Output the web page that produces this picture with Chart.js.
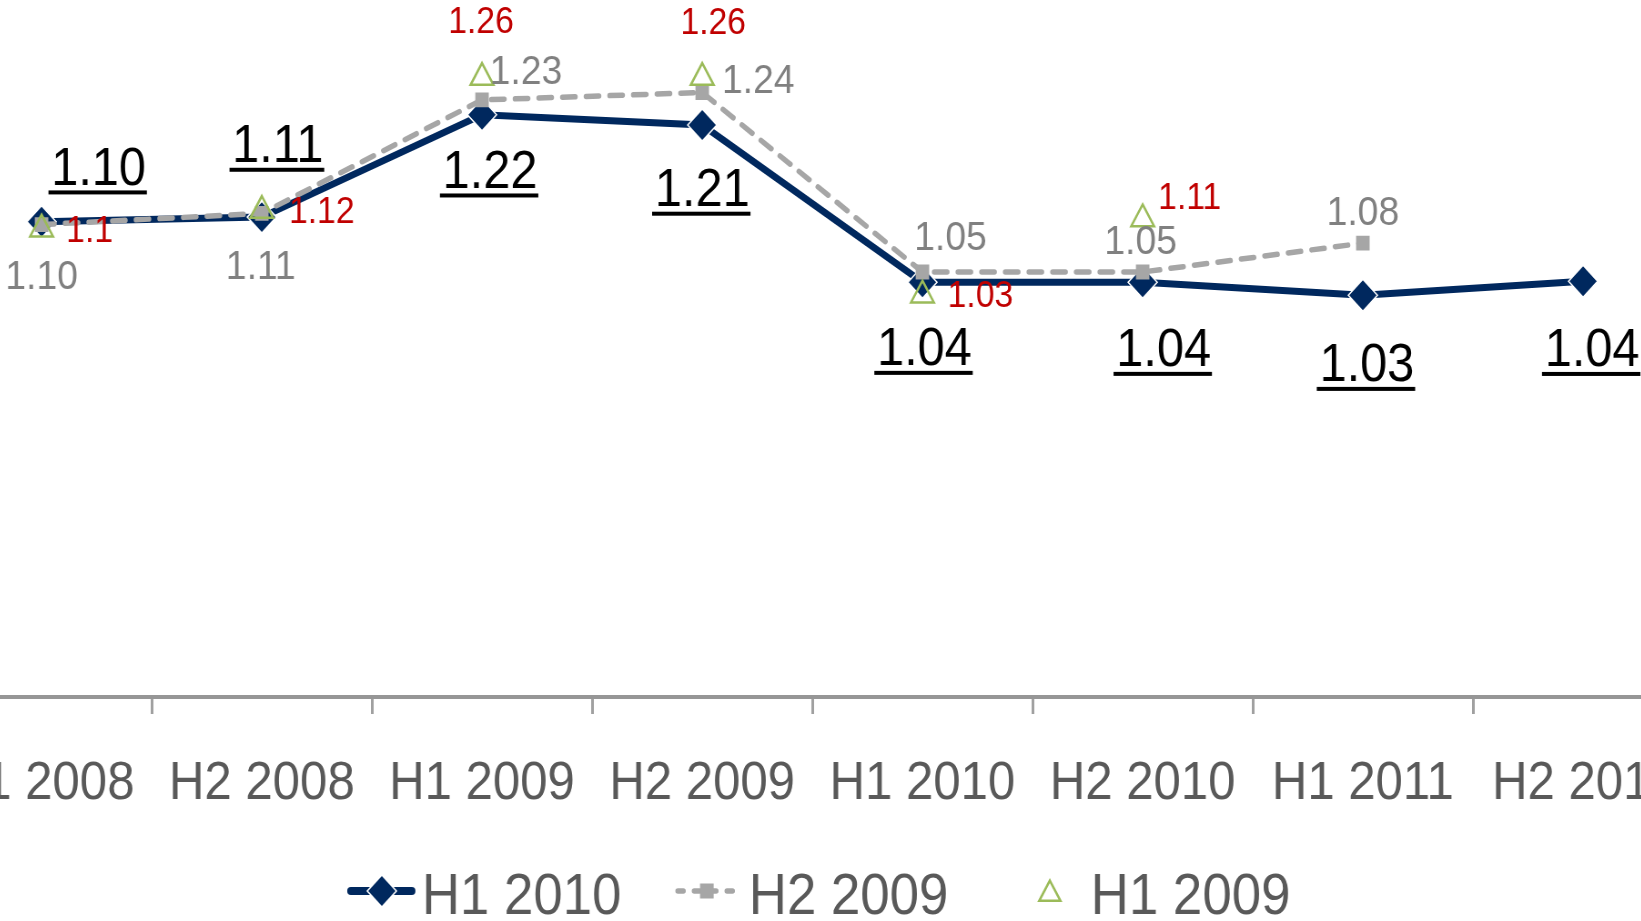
<!DOCTYPE html>
<html>
<head>
<meta charset="utf-8">
<script src="https://cdn.jsdelivr.net/npm/chart.js@4.4.1/dist/chart.umd.min.js"></script>
<style>
  html, body { margin: 0; padding: 0; background: #fff; overflow: hidden; width: 1641px; height: 921px; }
  #wrap { position: absolute; left: -66px; top: -47px; transform: scaleX(0.91); transform-origin: 0 0; }
</style>
</head>
<body>
<div id="wrap"><canvas id="chart" width="1931" height="968"></canvas></div>
<script>
"use strict";

// data
const periods = ["H1 2008", "H2 2008", "H1 2009", "H2 2009", "H1 2010", "H2 2010", "H1 2011", "H2 2011"];
const h1_2010 = [1.111, 1.116, 1.226, 1.215, 1.046, 1.046, 1.032, 1.047];
const h2_2009 = [1.108, 1.120, 1.242, 1.250, 1.057, 1.057, 1.088, null];
const h1_2009 = [1.103, 1.123, 1.266, 1.266, 1.032, 1.114, null, null];

// label texts as printed on the chart
const h1_2010_text = ["1.10", "1.11", "1.22", "1.21", "1.04", "1.04", "1.03", "1.04"];
const h2_2009_text = ["1.10", "1.11", "1.23", "1.24", "1.05", "1.05", "1.08", null];
const h1_2009_text = ["1.1", "1.12", "1.26", "1.26", "1.03", "1.11", null, null];

// where each label sits relative to its point (page px)
const h1_2010_off = [[57, -56], [16, -74], [8, 54], [0, 62], [2, 64], [21, 65], [4, 67], [9, 66]];
const h2_2009_off = [[0, 50], [-1, 51], [44, -31], [56, -14], [28, -37], [-2, -33], [0, -33]];
const h1_2009_off = [[48, 0], [60, -1], [-1, -58], [11, -57], [58, -1], [47, -23]];

// plot area wanted on the page: x -66..1691, y -47..697
const PLOT_LEFT = -66, PLOT_TOP = -47, SQUEEZE = 0.91;
const BASE_W = 1931, BASE_H = 968;
const FONT = "'Liberation Sans', Arial, sans-serif";
const NAVY = "#00285e", GREY = "#a6a6a6", GREEN = "#9bbb59";

let wrapLeft = PLOT_LEFT, wrapTop = PLOT_TOP;
function toX(px) { return (px - wrapLeft) / SQUEEZE; }
function toY(py) { return py - wrapTop; }

function drawLabel(ctx, el, text, off, size, color, underline) {
  const x = el.x + off[0] / SQUEEZE;
  const y = el.y + off[1] + size * 0.358;
  ctx.font = size + "px " + FONT;
  ctx.fillStyle = color;
  ctx.textAlign = "center";
  ctx.textBaseline = "alphabetic";
  ctx.fillText(text, x, y);
  if (underline) {
    const w = ctx.measureText(text).width;
    ctx.fillRect(x - w / 2 - 3, y + 5.5, w + 4, 4);
  }
}

const labelPlugin = {
  id: "pointLabels",
  afterDatasetsDraw(chart) {
    const ctx = chart.ctx;
    const sets = [
      [0, h1_2010_text, h1_2010_off, 53.5, "#000000", true],
      [1, h2_2009_text, h2_2009_off, 41, "#808080", false],
      [2, h1_2009_text, h1_2009_off, 37, "#c00000", false]
    ];
    ctx.save();
    sets.forEach(function (s) {
      const meta = chart.getDatasetMeta(s[0]);
      meta.data.forEach(function (el, i) {
        if (s[1][i] == null || !s[2][i]) return;
        drawLabel(ctx, el, s[1][i], s[2][i], s[3], s[4], s[5]);
      });
    });
    ctx.restore();
  }
};

function diamond(ctx, x, y, r) {
  ctx.beginPath();
  ctx.moveTo(x - r, y); ctx.lineTo(x, y - r); ctx.lineTo(x + r, y); ctx.lineTo(x, y + r);
  ctx.closePath();
}

const legendPlugin = {
  id: "lineLegend",
  afterDraw(chart) {
    const ctx = chart.ctx;
    const cy = toY(891);
    ctx.save();
    ctx.lineCap = "round";

    // H1 2010
    ctx.strokeStyle = NAVY; ctx.lineWidth = 8;
    ctx.beginPath(); ctx.moveTo(toX(351), cy); ctx.lineTo(toX(412), cy); ctx.stroke();
    diamond(ctx, toX(382), cy, 16);
    ctx.fillStyle = NAVY; ctx.fill();
    ctx.strokeStyle = "#ffffff"; ctx.lineWidth = 1.5; ctx.stroke();

    // H2 2009
    ctx.strokeStyle = GREY; ctx.lineWidth = 5.5; ctx.setLineDash([6, 12]);
    ctx.beginPath(); ctx.moveTo(toX(678), cy); ctx.lineTo(toX(733), cy); ctx.stroke();
    ctx.setLineDash([]);
    ctx.fillStyle = GREY;
    ctx.fillRect(toX(707) - 7.5, cy - 7.5, 15, 15);

    // H1 2009
    const tr = 13.5, tx = toX(1050), ty = cy + 3;
    ctx.beginPath();
    ctx.moveTo(tx, ty - tr);
    ctx.lineTo(tx + tr * 0.866, ty + tr / 2);
    ctx.lineTo(tx - tr * 0.866, ty + tr / 2);
    ctx.closePath();
    ctx.strokeStyle = GREEN; ctx.lineWidth = 2.5; ctx.stroke();

    ctx.font = "58px " + FONT;
    ctx.fillStyle = "#595959";
    ctx.textAlign = "left";
    ctx.textBaseline = "alphabetic";
    ctx.fillText("H1 2010", toX(422), toY(914));
    ctx.fillText("H2 2009", toX(749), toY(914));
    ctx.fillText("H1 2009", toX(1091), toY(914));
    ctx.restore();
  }
};

const canvas = document.getElementById("chart");
const wrap = document.getElementById("wrap");

function build() {
  return new Chart(canvas, {
    type: "line",
    data: {
      labels: periods,
      datasets: [
        {
          label: "H1 2010",
          data: h1_2010,
          order: 3,
          borderColor: NAVY,
          borderWidth: 7,
          pointStyle: "rectRot",
          pointRadius: 16,
          pointBackgroundColor: NAVY,
          pointBorderColor: "#ffffff",
          pointBorderWidth: 1.5,
          tension: 0
        },
        {
          label: "H2 2009",
          data: h2_2009,
          order: 2,
          borderColor: GREY,
          borderWidth: 5.5,
          borderDash: [14, 12],
          borderCapStyle: "round",
          pointStyle: "rect",
          pointRadius: 10.5,
          pointBackgroundColor: GREY,
          pointBorderWidth: 0,
          tension: 0
        },
        {
          label: "H1 2009",
          data: h1_2009,
          order: 1,
          showLine: false,
          pointStyle: "triangle",
          pointRadius: 14.5,
          pointBackgroundColor: "rgba(255,255,255,0)",
          pointBorderColor: GREEN,
          pointBorderWidth: 2.5
        }
      ]
    },
    options: {
      responsive: false,
      maintainAspectRatio: false,
      animation: false,
      events: [],
      layout: { autoPadding: false, padding: { top: 0, left: 0, right: 0, bottom: 74 } },
      plugins: {
        legend: { display: false },
        tooltip: { enabled: false }
      },
      scales: {
        x: {
          offset: true,
          afterFit: function (scale) { scale.height = 150; },
          grid: { offset: true, drawOnChartArea: false, drawTicks: true, tickLength: 17, color: "#a0a0a0", lineWidth: 3 },
          border: { color: "#969696", width: 4 },
          ticks: {
            autoSkip: false,
            maxRotation: 0,
            padding: 38,
            color: "#595959",
            font: { size: 54, family: FONT }
          }
        },
        y: {
          display: false,
          min: 0.6,
          max: 1.4
        }
      }
    },
    plugins: [labelPlugin, legendPlugin]
  });
}

// first pass only measures how much padding Chart.js keeps round the plot,
// then the canvas is widened so the plot area lands where the picture has it
const probe = build();
const padL = probe.chartArea.left;
const padR = probe.width - probe.chartArea.right;
const padT = probe.chartArea.top;
probe.destroy();

canvas.width = BASE_W + padL + padR;
canvas.height = BASE_H + padT;
wrapLeft = PLOT_LEFT - padL * SQUEEZE;
wrapTop = PLOT_TOP - padT;
wrap.style.left = wrapLeft + "px";
wrap.style.top = wrapTop + "px";
build();
</script>
</body>
</html>
